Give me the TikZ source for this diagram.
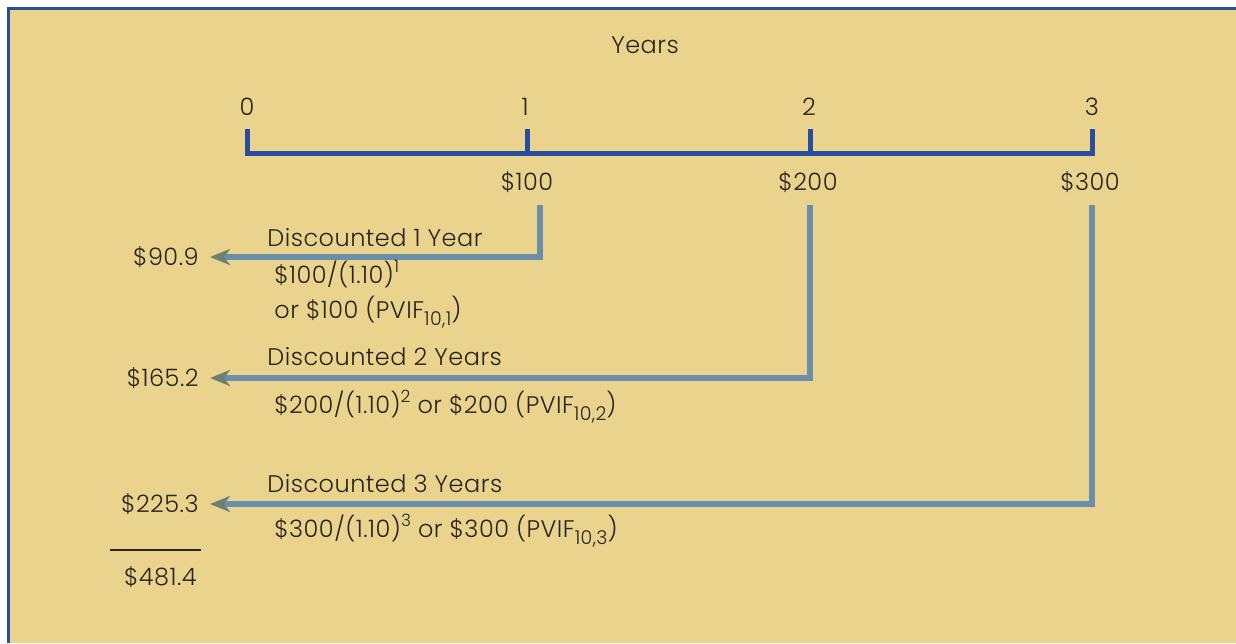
\documentclass[tikz,border=0pt]{standalone}
\usepackage{fontspec}
\setmainfont{Poppins}[UprightFont=* Light, LetterSpace=2]
\usetikzlibrary{arrows.meta}
\definecolor{paper}{RGB}{234,211,141}
\definecolor{lineblue}{RGB}{42,78,158}
\definecolor{flowgrey}{RGB}{107,142,170}
\definecolor{tipgrey}{RGB}{108,128,112}
\definecolor{ink}{RGB}{40,36,30}
\tikzset{
  axis/.style={line width=2.5pt, color=lineblue, line join=miter},
  flow/.style={line width=3pt, color=flowgrey, line join=miter,
    -{Stealth[length=10pt, width=8pt, inset=3pt, color=tipgrey]}, shorten >=5.5pt},
  lbl/.style={inner sep=0pt, text=ink, font=\fontsize{12}{14}\selectfont},
}
\newcommand{\sups}[1]{\raisebox{0.42em}{\fontsize{8.5}{9}\selectfont #1}}
\newcommand{\pvif}[1]{PVIF\raisebox{-0.32em}{\fontsize{9.5}{10}\selectfont 10,#1}}

\begin{document}
\begin{tikzpicture}[x=0.5pt, y=-0.5pt]
	%%%%% START %%%%%
	
	\useasboundingbox (0, 0) rectangle (1236, 643);
	\fill[white] (0, 0) rectangle (1236, 643);
	\fill[paper] (8, 7) rectangle (1236, 643);
	\draw[line width=1.5pt, color=lineblue] (8.5, 643) -- (8.5, 8) -- (1236, 8);
	
	\node[lbl] (years) at (645, 45) {Years};
	
	\node[lbl, anchor=base] (y0) at (247, 115) {0};
	\node[lbl, anchor=base] (y1) at (525, 115) {1};
	\node[lbl, anchor=base] (y2) at (809, 115) {2};
	\node[lbl, anchor=base] (y3) at (1092, 115) {3};
	
	\draw[axis] (247, 129) -- (247, 153) -- (1092, 153) -- (1092, 129);
	\draw[axis] (527, 129) -- (527, 153);
	\draw[axis] (810, 129) -- (810, 153);
	
	\node[lbl, anchor=base] (c1) at (527, 190) {\$100};
	\node[lbl, anchor=base] (c2) at (808, 190) {\$200};
	\node[lbl, anchor=base] (c3) at (1090, 190) {\$300};
	
	\coordinate (s1) at (540, 205);
	\coordinate (s2) at (810, 205);
	\coordinate (s3) at (1092, 205);
	
	\node[lbl, anchor=east] (v1) at (199, 257) {\$90.9};
	\node[lbl, anchor=east] (v2) at (199, 378) {\$165.2};
	\node[lbl, anchor=east] (v3) at (199, 504) {\$225.3};
	
	\draw[flow] (s1) |- (v1);
	\draw[flow] (s2) |- (v2);
	\draw[flow] (s3) |- (v3);
	
	\node[lbl, anchor=base west] (d1) at (267, 246) {Discounted 1 Year};
	\node[lbl, anchor=base west] (f1) at (274, 283) {\$100/(1.10)\sups{1}};
	\node[lbl, anchor=base west] (g1) at (274, 318) {or \$100 (\pvif{1})};
	
	\node[lbl, anchor=base west] (d2) at (267, 365) {Discounted 2 Years};
	\node[lbl, anchor=base west] (f2) at (274, 413) {\$200/(1.10)\sups{2} or \$200 (\pvif{2})};
	
	\node[lbl, anchor=base west] (d3) at (267, 492) {Discounted 3 Years};
	\node[lbl, anchor=base west] (f3) at (274, 537) {\$300/(1.10)\sups{3} or \$300 (\pvif{3})};
	
	\draw[line width=1.2pt, color=ink] (110, 550) -- (201, 550);
	\node[lbl, anchor=base east] (tot) at (197, 585) {\$481.4};
	
	%%%%% END %%%%%
\end{tikzpicture}
\end{document}
